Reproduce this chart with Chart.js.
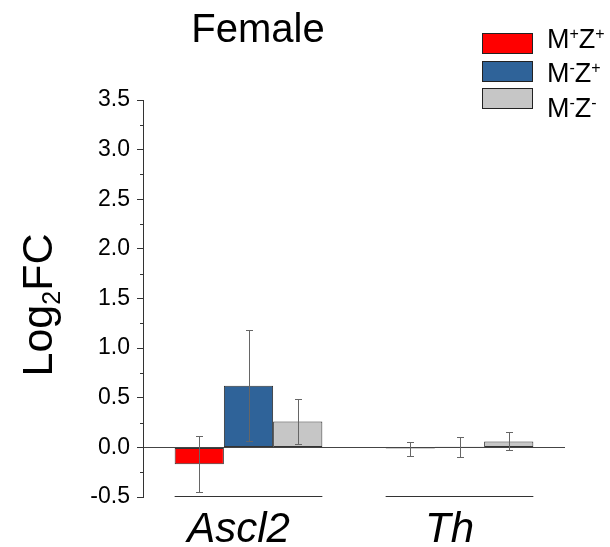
<!DOCTYPE html>
<html>
<head>
<meta charset="utf-8">
<script src="https://cdn.jsdelivr.net/npm/chart.js@4"></script>
<style>
  body { margin: 0; background: #fff; }
</style>
</head>
<body>
<canvas id="chart" width="610" height="547"></canvas>
<script>
const categories = ['Ascl2', 'Th'];
const seriesNames = ['M⁺Z⁺', 'M⁻Z⁺', 'M⁻Z⁻'];
const redValues = [-0.17, -0.012];
const redErrors = [0.28, 0.07];
const blueValues = [0.62, 0.007];
const blueErrors = [0.56, 0.10];
const greyValues = [0.26, 0.06];
const greyErrors = [0.23, 0.09];
const yMin = -0.5;
const yMax = 3.5;
const yStep = 0.5;

const FONT = "'Liberation Sans', Arial, sans-serif";

// error bars, minor ticks, group lines, title, legend, y title
const extras = {
    id: 'extras',
    afterDatasetsDraw(chart) {
        const ctx = chart.ctx;
        const y = chart.scales.y;
        ctx.save();
        chart.data.datasets.forEach((ds, i) => {
            const meta = chart.getDatasetMeta(i);
            meta.data.forEach((bar, j) => {
                const v = ds.data[j], e = ds.errors[j];
                const top = Math.round(y.getPixelForValue(v + e)) + 0.5;
                const bot = Math.round(y.getPixelForValue(v - e)) + 0.5;
                const bx = Math.round(bar.x) + 0.5;
                ctx.strokeStyle = '#666';
                ctx.lineWidth = 1;
                ctx.beginPath();
                ctx.moveTo(bx, top); ctx.lineTo(bx, bot);
                ctx.moveTo(bx - 3.5, top); ctx.lineTo(bx + 3.5, top);
                ctx.moveTo(bx - 3.5, bot); ctx.lineTo(bx + 3.5, bot);
                ctx.stroke();
            });
        });
        ctx.restore();
    },
    afterDraw(chart) {
        const ctx = chart.ctx;
        const y = chart.scales.y;
        const area = chart.chartArea;
        ctx.save();

        // minor ticks
        ctx.strokeStyle = '#333';
        ctx.lineWidth = 1;
        ctx.beginPath();
        for (let v = yMin + yStep / 2; v < yMax; v += yStep) {
            const py = Math.round(y.getPixelForValue(v)) + 0.5;
            ctx.moveTo(area.left - 3, py); ctx.lineTo(area.left, py);
        }
        ctx.stroke();

        // line under each group
        const first = chart.getDatasetMeta(0).data;
        const last = chart.getDatasetMeta(chart.data.datasets.length - 1).data;
        const gy = Math.round(y.getPixelForValue(yMin)) - 0.5;
        ctx.beginPath();
        first.forEach((bar, j) => {
            ctx.moveTo(bar.x - bar.width / 2, gy);
            ctx.lineTo(last[j].x + last[j].width / 2, gy);
        });
        ctx.stroke();

        // title
        ctx.fillStyle = '#000';
        ctx.font = '40px ' + FONT;
        ctx.textAlign = 'center';
        ctx.textBaseline = 'alphabetic';
        ctx.fillText('Female', 258, 42);

        // y title with subscript
        ctx.translate(52, 305);
        ctx.rotate(-Math.PI / 2);
        ctx.textAlign = 'left';
        ctx.font = '43px ' + FONT;
        const w1 = ctx.measureText('Log').width;
        const w3 = ctx.measureText('FC').width;
        ctx.font = '25px ' + FONT;
        const w2 = ctx.measureText('2').width;
        let x0 = -(w1 + w2 + w3) / 2;
        ctx.font = '43px ' + FONT;
        ctx.fillText('Log', x0, 0);
        ctx.font = '25px ' + FONT;
        ctx.fillText('2', x0 + w1, 8);
        ctx.font = '43px ' + FONT;
        ctx.fillText('FC', x0 + w1 + w2, 0);
        ctx.setTransform(1, 0, 0, 1, 0, 0);

        // legend
        const boxTops = [33, 61, 88];
        const textBase = [48, 82, 117];
        chart.data.datasets.forEach((ds, i) => {
            ctx.fillStyle = ds.backgroundColor;
            ctx.fillRect(482, boxTops[i], 51, 21);
            ctx.strokeStyle = '#222';
            ctx.strokeRect(482.5, boxTops[i] + 0.5, 50, 20);
            let tx = 547;
            ctx.fillStyle = '#000';
            for (const ch of ds.label) {
                if (ch === '⁺' || ch === '⁻') {
                    ctx.font = '16px ' + FONT;
                    const s = ch === '⁺' ? '+' : '-';
                    ctx.fillText(s, tx, textBase[i] - 9);
                    tx += ctx.measureText(s).width;
                } else {
                    ctx.font = '27px ' + FONT;
                    ctx.fillText(ch, tx, textBase[i]);
                    tx += ctx.measureText(ch).width;
                }
            }
        });
        ctx.restore();
    }
};

new Chart(document.querySelector('#chart').getContext('2d'), {
    type: 'bar',
    data: {
        labels: categories,
        datasets: [
            { label: seriesNames[0], data: redValues, errors: redErrors, backgroundColor: '#ff0000' },
            { label: seriesNames[1], data: blueValues, errors: blueErrors, backgroundColor: '#2f6399' },
            { label: seriesNames[2], data: greyValues, errors: greyErrors, backgroundColor: '#c6c6c6' }
        ]
    },
    options: {
        responsive: false,
        animation: false,
        layout: { padding: { left: 0, right: 45, top: 100, bottom: 0 } },
        datasets: {
            bar: {
                borderColor: '#333',
                borderWidth: 1,
                borderSkipped: false,
                categoryPercentage: 0.7,
                barPercentage: 1.0
            }
        },
        plugins: {
            legend: { display: false },
            title: { display: false },
            tooltip: { enabled: false }
        },
        scales: {
            x: {
                grid: { display: false },
                border: { display: false },
                ticks: {
                    color: '#000',
                    padding: 0,
                    labelOffset: -10,
                    font: { family: FONT, size: 42, style: 'italic' }
                },
                afterFit(scale) { scale.height = 50; }
            },
            y: {
                min: yMin,
                max: yMax,
                border: { display: true, color: '#333', width: 1 },
                grid: {
                    drawOnChartArea: true,
                    color: c => (c.tick && c.tick.value === 0) ? '#444' : 'rgba(0,0,0,0)',
                    tickColor: '#333',
                    tickLength: 6
                },
                ticks: {
                    stepSize: yStep,
                    color: '#000',
                    padding: 7,
                    font: { family: FONT, size: 23 },
                    callback: v => v.toFixed(1)
                },
                afterFit(scale) { scale.width = 143; }
            }
        }
    },
    plugins: [extras]
});
</script>
</body>
</html>
